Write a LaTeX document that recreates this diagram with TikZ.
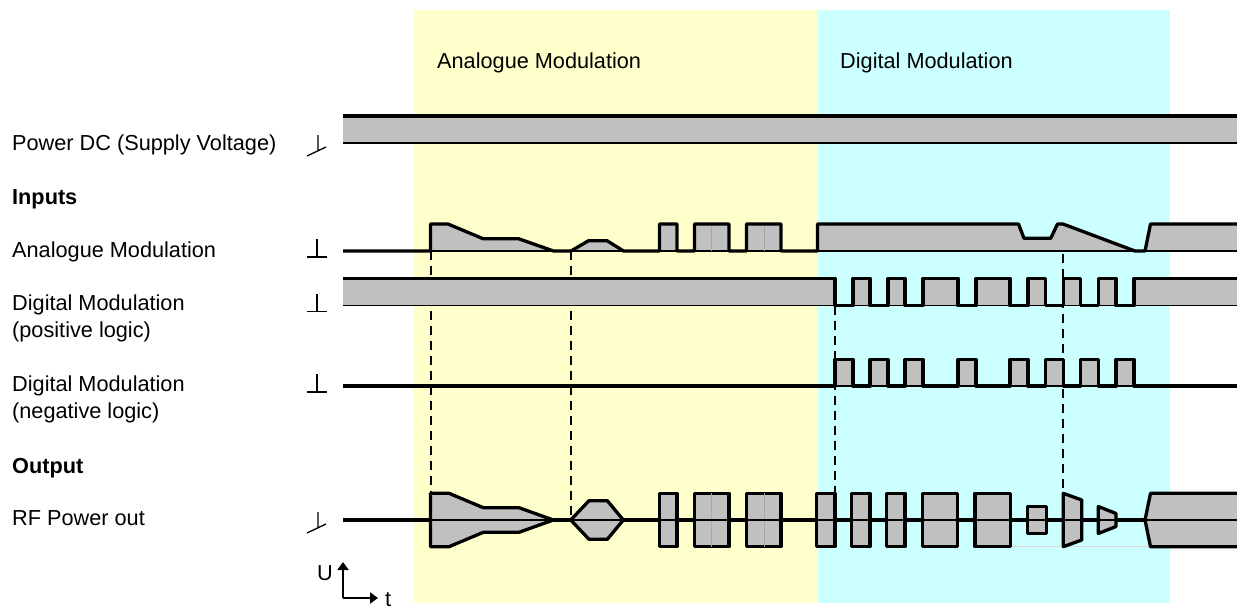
\documentclass[tikz,border=0pt]{standalone}
\usepackage{fontspec}
\setmainfont{Liberation Sans}
\usetikzlibrary{arrows.meta}
\definecolor{sig}{RGB}{192,192,192}
\definecolor{anabg}{RGB}{255,255,204}
\definecolor{digbg}{RGB}{204,255,255}
\newcommand{\gnd}[1]{\draw[line width=1.3pt] (317,#1-12) -- (317,#1+6) (307,#1+6) -- (327,#1+6);}
\newcommand{\tgnd}[1]{\draw[line width=1.3pt] (318,#1-8) -- (318,#1+7) (307,#1+13) -- (326,#1+4);}
\begin{document}
\begin{tikzpicture}[x=1pt,y=-1pt,font=\fontsize{21.7}{26}\selectfont,
  wave/.style={line width=3.3pt,line join=round},
  base/.style={line width=1.3pt},
  guide/.style={line width=2pt,dash pattern=on 9pt off 6pt},
  lbl/.style={anchor=base west,inner sep=0pt},
  lblb/.style={lbl,font=\fontsize{21.7}{26}\selectfont\bfseries}]
\useasboundingbox (0,0) rectangle (1237,610);
\fill[anabg] (414,10) rectangle (818,603);
\fill[digbg] (818,10) rectangle (1170,603);
\node[lbl] (hdana) at (437,69) {Analogue Modulation};
\node[lbl] (hddig) at (840,69) {Digital Modulation};
\node[lbl] (power) at (12,150) {Power DC (Supply Voltage)};
\node[lblb] (inputs) at (12,204) {Inputs};
\node[lbl] (ana) at (12,257) {Analogue Modulation};
\node[lbl] (dpos) at (12,310) {Digital Modulation};
\node[lbl] (dposb) at (12,337) {(positive logic)};
\node[lbl] (dneg) at (12,391) {Digital Modulation};
\node[lbl] (dnegb) at (12,418) {(negative logic)};
\node[lblb] (output) at (12,473) {Output};
\node[lbl] (rf) at (12,525) {RF Power out};
\node[lbl] (uax) at (317,580) {U};
\node[lbl] (tax) at (385,606) {t};
\coordinate (o) at (343,598);
\draw[line width=2pt,-{Triangle[length=8pt,width=11pt]}] (o) -- (343,562);
\draw[line width=2pt,-{Triangle[length=8pt,width=11pt]}] (o) -- (378,598);
\tgnd{143}
\gnd{251}
\gnd{305.5}
\gnd{386}
\tgnd{520}
\coordinate (g1) at (430.5,251);
\coordinate (g1b) at (430.5,493.3);
\coordinate (g2) at (571,251);
\coordinate (g2b) at (571,520);
\coordinate (g3) at (835,305.5);
\coordinate (g3b) at (835,493.3);
\coordinate (g4) at (1063.3,224);
\coordinate (g4b) at (1063.3,493.3);
\draw[guide] (g1) -- (g1b);
\draw[guide] (g2) -- (g2b);
\draw[guide] (g3) -- (g3b);
\draw[guide] (g4) -- (g4b);
\fill[sig] (343,116) rectangle (1237,142.7);
\draw[wave] (343,116) -- (1237,116);
\draw[line width=2pt] (343,142.7) -- (1237,142.7);
\def\anapath{(343,251) -- (430.5,251) -- (430.5,224) -- (448,224) -- (483,238.7) -- (518.5,238.7) -- (553.5,251) -- (571,251) -- (588.5,240.7) -- (607,240.7) -- (623.5,251) -- (659.5,251) -- (659.5,224) -- (677,224) -- (677,251) -- (694.5,251) -- (694.5,224) -- (729,224) -- (729,251) -- (746.5,251) -- (746.5,224) -- (781,224) -- (781,251) -- (817.5,251) -- (817.5,224) -- (1018.5,224) -- (1024,238.3) -- (1050.7,238.3) -- (1057.5,224) -- (1063,224) -- (1135,251) -- (1145,251) -- (1150.5,224) -- (1237,224)}
\fill[sig] \anapath -- (1237,251) -- cycle;
\draw[base] (343,251) -- (1237,251);
\draw[line width=0.8pt,black!35] (711.7,224) -- (711.7,251) (764,224) -- (764,251);
\draw[wave] \anapath;
\fill[sig] (343,305.5) -- (343,278.5) foreach \a/\b in {835/853,870/888,905/923,958/976,1010/1028,1045.5/1063.3,1080.5/1098.3,1116/1134} { -- (\a,278.5) -- (\a,305.5) -- (\b,305.5) -- (\b,278.5) } -- (1237,278.5) -- (1237,305.5) -- cycle;
\draw[base] (343,305.5) -- (1237,305.5);
\draw[wave] (343,278.5) foreach \a/\b in {835/853,870/888,905/923,958/976,1010/1028,1045.5/1063.3,1080.5/1098.3,1116/1134} { -- (\a,278.5) -- (\a,305.5) -- (\b,305.5) -- (\b,278.5) } -- (1237,278.5);
\foreach \a/\b in {835/853,870/888,905/923,958/976,1010/1028,1045.5/1063.3,1080.5/1098.3,1116/1134}
  \fill[sig] (\a,359.5) rectangle (\b,386);
\draw[base] (343,386) -- (1237,386);
\draw[wave] (343,386) foreach \a/\b in {835/853,870/888,905/923,958/976,1010/1028,1045.5/1063.3,1080.5/1098.3,1116/1134} { -- (\a,386) -- (\a,359.5) -- (\b,359.5) -- (\b,386) } -- (1237,386);
\draw[line width=0.8pt,black!15] (1010.7,546.7) -- (1170,546.7);
\filldraw[wave,fill=sig] (430.5,493.3) -- (449,493.3) -- (483.3,507.7) -- (519,507.7) -- (553.3,520) -- (519,532.3) -- (483.3,532.3) -- (449,546.7) -- (430.5,546.7) -- cycle;
\filldraw[wave,fill=sig] (570.7,520) -- (589,500.7) -- (607.3,500.7) -- (623.3,520) -- (607.3,539.3) -- (589,539.3) -- cycle;
\foreach \a/\b in {659.5/677,694.5/729,746.5/781,816.7/835,851.7/870,886.7/905,922.3/957.7,975/1010.7}
  \filldraw[wave,fill=sig] (\a,493.3) rectangle (\b,546.7);
\filldraw[wave,fill=sig] (1027.3,506.5) rectangle (1046.7,533.5);
\filldraw[wave,fill=sig] (1063.3,493.3) -- (1081.7,500) -- (1081.7,540) -- (1063.3,546.7) -- cycle;
\filldraw[wave,fill=sig] (1098.3,506.5) -- (1116,513.5) -- (1116,526.5) -- (1098.3,533.5) -- cycle;
\fill[sig] (1237,493.3) -- (1150.5,493.3) -- (1145,520) -- (1150.5,546.7) -- (1237,546.7) -- cycle;
\draw[wave] (1237,493.3) -- (1150.5,493.3) -- (1145,520) -- (1150.5,546.7) -- (1237,546.7);
\draw[line width=0.8pt,black!35] (711.7,493.3) -- (711.7,546.7) (764,493.3) -- (764,546.7);
\draw[base] (343,520) -- (1237,520);
\foreach \a/\b in {343/430.5,553.3/570.7,623.3/659.5,677/694.5,729/746.5,781/816.7,835/851.7,870/886.7,905/922.3,957.7/975,1010.7/1027.3,1046.7/1063.3,1081.7/1098.3,1116/1145}
  \draw[wave] (\a,520) -- (\b,520);
\end{tikzpicture}
\end{document}
